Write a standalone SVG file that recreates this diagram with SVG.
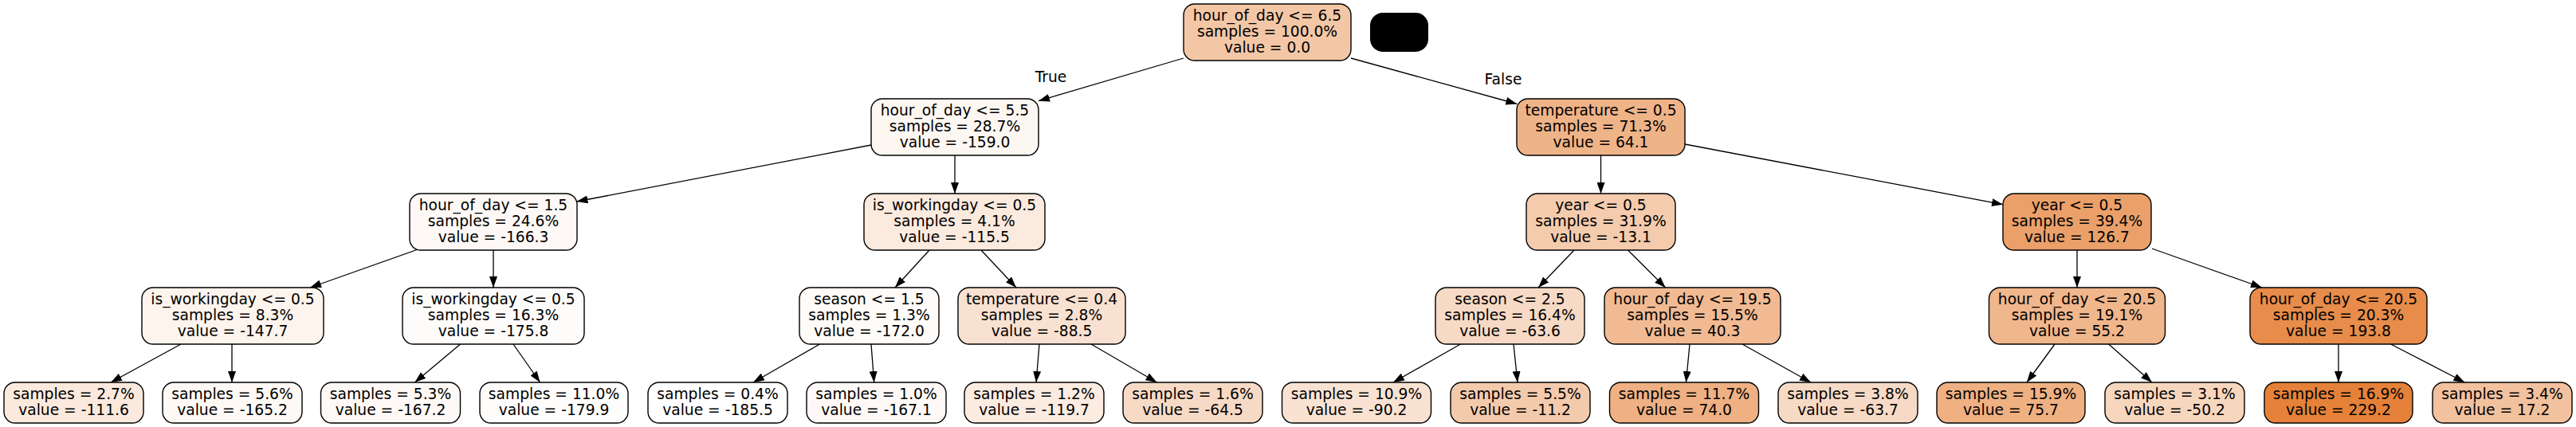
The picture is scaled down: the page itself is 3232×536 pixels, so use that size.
<svg xmlns="http://www.w3.org/2000/svg" width="3232" height="536" viewBox="0 0 3232 536">
<style>
.bg{fill:#ffffff}
.node rect{stroke:#000000;stroke-width:1.4}
text{font-family:"DejaVu Sans","Liberation Sans",sans-serif;font-size:18.67px;fill:#000000;text-anchor:middle}
.edges line{stroke:#000000;stroke-width:1.3;marker-end:url(#ah)}
</style>
<defs>
<marker id="ah" markerUnits="userSpaceOnUse" markerWidth="14" markerHeight="10" refX="14" refY="5" orient="auto" viewBox="0 0 14 10"><path d="M0,0 L14,5 L0,10 z" fill="#000000"/></marker>
</defs>
<rect class="bg" x="0" y="0" width="3232" height="536"/>
<g id="connectors" class="edges">
<line x1="1485" y1="73" x2="1303" y2="126.7"/>
<line x1="1695" y1="73" x2="1903.3" y2="130.5"/>
<line x1="1093" y1="182" x2="723.5" y2="253"/>
<line x1="1198" y1="195" x2="1198" y2="243"/>
<line x1="2008.5" y1="195" x2="2008.5" y2="243"/>
<line x1="2114" y1="181" x2="2513" y2="256.7"/>
<line x1="523" y1="313.5" x2="389" y2="361"/>
<line x1="619" y1="314" x2="619" y2="361"/>
<line x1="1166" y1="314" x2="1123" y2="361"/>
<line x1="1231" y1="314" x2="1275" y2="361"/>
<line x1="1975" y1="314" x2="1930" y2="361"/>
<line x1="2042.5" y1="314" x2="2089.6" y2="361"/>
<line x1="2606" y1="314" x2="2606" y2="361"/>
<line x1="2700" y1="312" x2="2838" y2="361"/>
<line x1="227" y1="432" x2="139" y2="480"/>
<line x1="291" y1="432" x2="291" y2="480"/>
<line x1="577.6" y1="432" x2="520.4" y2="480"/>
<line x1="644" y1="432" x2="677.6" y2="480"/>
<line x1="1028.4" y1="432" x2="945" y2="480"/>
<line x1="1093" y1="432" x2="1096.7" y2="480"/>
<line x1="1304" y1="432" x2="1300" y2="480"/>
<line x1="1369" y1="432" x2="1451.5" y2="480"/>
<line x1="1832.4" y1="432" x2="1748" y2="480"/>
<line x1="1899" y1="432" x2="1904" y2="480"/>
<line x1="2120" y1="432" x2="2115.4" y2="480"/>
<line x1="2186" y1="432" x2="2272" y2="480"/>
<line x1="2578" y1="432" x2="2543" y2="480"/>
<line x1="2645.7" y1="432" x2="2700" y2="480"/>
<line x1="2934" y1="432" x2="2934" y2="480"/>
<line x1="2999.6" y1="432" x2="3092.4" y2="480"/>
<text x="1318.5" y="102.7">True</text>
<text x="1886" y="105.7">False</text>
</g>
<g id="legend"><rect x="1719" y="16" width="73" height="49" rx="16" fill="#000000"/></g>
<g id="n0" class="node"><rect x="1485" y="5" width="210" height="71" rx="14" fill="#f3c7a6"/><text x="1590" y="25.5">hour_of_day &lt;= 6.5</text><text x="1590" y="45.5">samples = 100.0%</text><text x="1590" y="65.5">value = 0.0</text></g>
<g id="n1" class="node"><rect x="1093" y="124" width="210" height="71" rx="14" fill="#fdf7f2"/><text x="1198" y="144.5">hour_of_day &lt;= 5.5</text><text x="1198" y="164.5">samples = 28.7%</text><text x="1198" y="184.5">value = -159.0</text></g>
<g id="n2" class="node"><rect x="1903" y="124" width="211" height="71" rx="14" fill="#efb388"/><text x="2008.5" y="144.5">temperature &lt;= 0.5</text><text x="2008.5" y="164.5">samples = 71.3%</text><text x="2008.5" y="184.5">value = 64.1</text></g>
<g id="n3" class="node"><rect x="514" y="243" width="210" height="71" rx="14" fill="#fef9f6"/><text x="619" y="263.5">hour_of_day &lt;= 1.5</text><text x="619" y="283.5">samples = 24.6%</text><text x="619" y="303.5">value = -166.3</text></g>
<g id="n4" class="node"><rect x="1084" y="243" width="227" height="71" rx="14" fill="#fbeade"/><text x="1197.5" y="263.5">is_workingday &lt;= 0.5</text><text x="1197.5" y="283.5">samples = 4.1%</text><text x="1197.5" y="303.5">value = -115.5</text></g>
<g id="n5" class="node"><rect x="1915" y="243" width="187" height="71" rx="14" fill="#f4cbad"/><text x="2008.5" y="263.5">year &lt;= 0.5</text><text x="2008.5" y="283.5">samples = 31.9%</text><text x="2008.5" y="303.5">value = -13.1</text></g>
<g id="n6" class="node"><rect x="2513" y="243" width="186" height="71" rx="14" fill="#eba06a"/><text x="2606" y="263.5">year &lt;= 0.5</text><text x="2606" y="283.5">samples = 39.4%</text><text x="2606" y="303.5">value = 126.7</text></g>
<g id="n7" class="node"><rect x="178" y="361" width="228" height="71" rx="14" fill="#fdf4ed"/><text x="292" y="381.5">is_workingday &lt;= 0.5</text><text x="292" y="401.5">samples = 8.3%</text><text x="292" y="421.5">value = -147.7</text></g>
<g id="n8" class="node"><rect x="505" y="361" width="228" height="71" rx="14" fill="#fefcfa"/><text x="619" y="381.5">is_workingday &lt;= 0.5</text><text x="619" y="401.5">samples = 16.3%</text><text x="619" y="421.5">value = -175.8</text></g>
<g id="n9" class="node"><rect x="1003" y="361" width="175" height="71" rx="14" fill="#fefbf8"/><text x="1090.5" y="381.5">season &lt;= 1.5</text><text x="1090.5" y="401.5">samples = 1.3%</text><text x="1090.5" y="421.5">value = -172.0</text></g>
<g id="n10" class="node"><rect x="1202" y="361" width="210" height="71" rx="14" fill="#f9e1d1"/><text x="1307" y="381.5">temperature &lt;= 0.4</text><text x="1307" y="401.5">samples = 2.8%</text><text x="1307" y="421.5">value = -88.5</text></g>
<g id="n11" class="node"><rect x="1801" y="361" width="187" height="71" rx="14" fill="#f7dac5"/><text x="1894.5" y="381.5">season &lt;= 2.5</text><text x="1894.5" y="401.5">samples = 16.4%</text><text x="1894.5" y="421.5">value = -63.6</text></g>
<g id="n12" class="node"><rect x="2013" y="361" width="221" height="71" rx="14" fill="#f1ba93"/><text x="2123.5" y="381.5">hour_of_day &lt;= 19.5</text><text x="2123.5" y="401.5">samples = 15.5%</text><text x="2123.5" y="421.5">value = 40.3</text></g>
<g id="n13" class="node"><rect x="2495.5" y="361" width="221" height="71" rx="14" fill="#f0b68c"/><text x="2606" y="381.5">hour_of_day &lt;= 20.5</text><text x="2606" y="401.5">samples = 19.1%</text><text x="2606" y="421.5">value = 55.2</text></g>
<g id="n14" class="node"><rect x="2823" y="361" width="222" height="71" rx="14" fill="#e78c4a"/><text x="2934" y="381.5">hour_of_day &lt;= 20.5</text><text x="2934" y="401.5">samples = 20.3%</text><text x="2934" y="421.5">value = 193.8</text></g>
<g id="l1" class="node"><rect x="5" y="480" width="175" height="51" rx="14" fill="#fae9dc"/><text x="92.5" y="500.5">samples = 2.7%</text><text x="92.5" y="520.5">value = -111.6</text></g>
<g id="l2" class="node"><rect x="204" y="480" width="175" height="51" rx="14" fill="#fef9f5"/><text x="291.5" y="500.5">samples = 5.6%</text><text x="291.5" y="520.5">value = -165.2</text></g>
<g id="l3" class="node"><rect x="402.5" y="480" width="175" height="51" rx="14" fill="#fef9f6"/><text x="490" y="500.5">samples = 5.3%</text><text x="490" y="520.5">value = -167.2</text></g>
<g id="l4" class="node"><rect x="602" y="480" width="186" height="51" rx="14" fill="#fffdfc"/><text x="695" y="500.5">samples = 11.0%</text><text x="695" y="520.5">value = -179.9</text></g>
<g id="l5" class="node"><rect x="813" y="480" width="175" height="51" rx="14" fill="#ffffff"/><text x="900.5" y="500.5">samples = 0.4%</text><text x="900.5" y="520.5">value = -185.5</text></g>
<g id="l6" class="node"><rect x="1012" y="480" width="175" height="51" rx="14" fill="#fef9f6"/><text x="1099.5" y="500.5">samples = 1.0%</text><text x="1099.5" y="520.5">value = -167.1</text></g>
<g id="l7" class="node"><rect x="1210" y="480" width="175" height="51" rx="14" fill="#fbebe0"/><text x="1297.5" y="500.5">samples = 1.2%</text><text x="1297.5" y="520.5">value = -119.7</text></g>
<g id="l8" class="node"><rect x="1409" y="480" width="175" height="51" rx="14" fill="#f7dac5"/><text x="1496.5" y="500.5">samples = 1.6%</text><text x="1496.5" y="520.5">value = -64.5</text></g>
<g id="l9" class="node"><rect x="1608.5" y="480" width="187" height="51" rx="14" fill="#f9e2d2"/><text x="1702" y="500.5">samples = 10.9%</text><text x="1702" y="520.5">value = -90.2</text></g>
<g id="l10" class="node"><rect x="1820" y="480" width="175" height="51" rx="14" fill="#f4caac"/><text x="1907.5" y="500.5">samples = 5.5%</text><text x="1907.5" y="520.5">value = -11.2</text></g>
<g id="l11" class="node"><rect x="2019.5" y="480" width="187" height="51" rx="14" fill="#efb083"/><text x="2113" y="500.5">samples = 11.7%</text><text x="2113" y="520.5">value = 74.0</text></g>
<g id="l12" class="node"><rect x="2231" y="480" width="175" height="51" rx="14" fill="#f7dac5"/><text x="2318.5" y="500.5">samples = 3.8%</text><text x="2318.5" y="520.5">value = -63.7</text></g>
<g id="l13" class="node"><rect x="2430" y="480" width="186" height="51" rx="14" fill="#efb082"/><text x="2523" y="500.5">samples = 15.9%</text><text x="2523" y="520.5">value = 75.7</text></g>
<g id="l14" class="node"><rect x="2641" y="480" width="175" height="51" rx="14" fill="#f7d6be"/><text x="2728.5" y="500.5">samples = 3.1%</text><text x="2728.5" y="520.5">value = -50.2</text></g>
<g id="l15" class="node"><rect x="2841" y="480" width="186" height="51" rx="14" fill="#e58139"/><text x="2934" y="500.5">samples = 16.9%</text><text x="2934" y="520.5">value = 229.2</text></g>
<g id="l16" class="node"><rect x="3052" y="480" width="175" height="51" rx="14" fill="#f2c19e"/><text x="3139.5" y="500.5">samples = 3.4%</text><text x="3139.5" y="520.5">value = 17.2</text></g>
</svg>
